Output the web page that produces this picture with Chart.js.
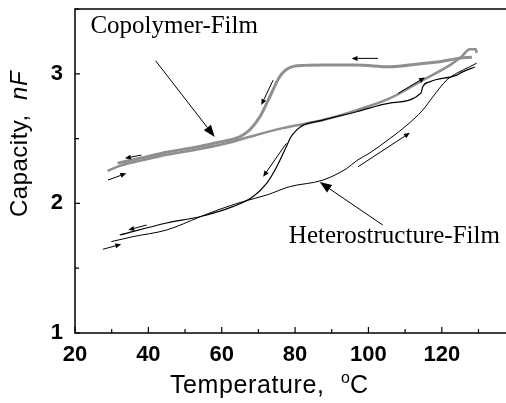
<!DOCTYPE html>
<html>
<head>
<meta charset="utf-8">
<script src="https://cdn.jsdelivr.net/npm/chart.js@4.4.1/dist/chart.umd.min.js"></script>
<style>
  body { margin: 0; background: #fff; }
  #wrap { width: 506px; height: 403px; }
</style>
</head>
<body>
<div id="wrap"><canvas id="capChart"></canvas></div>
<script>
// heterostructure film (black) - heating branch
const hetHeatT = [29.9, 35.7, 45.0, 54.0, 59.0, 65.7, 72.3, 78.5, 87.6, 94.1, 96.8, 100.4, 105.8, 110.5, 114.8, 117.5, 121.3, 124.1, 127.6, 129.5];
const hetHeatC = [1.705, 1.743, 1.795, 1.895, 1.95, 2.013, 2.065, 2.129, 2.18, 2.27, 2.33, 2.39, 2.50, 2.604, 2.72, 2.82, 2.951, 3.005, 3.054, 3.082];
// heterostructure film - cooling branch
const hetCoolT = [129.0, 125.5, 124.1, 116.7, 114.8, 114.3, 105.8, 96.8, 87.6, 82.0, 80.4, 78.8, 77.6, 75.0, 72.3, 68.5, 63.0, 54.0, 45.0, 32.2];
const hetCoolC = [3.052, 3.013, 2.99, 2.938, 2.90, 2.851, 2.774, 2.707, 2.643, 2.60, 2.565, 2.51, 2.437, 2.283, 2.157, 2.052, 1.975, 1.897, 1.849, 1.756];

// copolymer film (gray) - heating branch
const copHeatT = [28.9, 32.2, 38.0, 45.0, 54.0, 62.2, 67.6, 76.6, 87.6, 96.8, 105.8, 114.8, 122.2, 125.5, 127.6, 129.3, 129.5];
const copHeatC = [2.25, 2.29, 2.33, 2.375, 2.42, 2.47, 2.514, 2.581, 2.643, 2.72, 2.81, 2.951, 3.067, 3.136, 3.19, 3.19, 3.16];
// copolymer film - cooling branch
const copCoolT = [128.2, 124.9, 119.4, 114.8, 105.8, 96.8, 87.6, 82.5, 79.5, 77.7, 75.8, 73.1, 70.4, 67.6, 64.9, 62.2, 58.6, 54.0, 45.0, 38.0, 31.6];
const copCoolC = [3.128, 3.121, 3.093, 3.08, 3.054, 3.067, 3.067, 3.065, 3.057, 3.035, 2.977, 2.823, 2.668, 2.566, 2.514, 2.489, 2.468, 2.44, 2.395, 2.35, 2.311];

const xTickValues = [20, 40, 60, 80, 100, 120];
const yTickValues = [1, 2, 3];

// small direction arrows: [fromT, fromC, toT, toC]
const dirArrows = [
  [38.1, 2.373, 33.6, 2.348],
  [29.0, 2.18, 34.0, 2.232],
  [74.0, 2.951, 70.8, 2.759],
  [102.6, 3.119, 95.4, 3.119],
  [108.1, 2.849, 115.4, 2.972],
  [97.2, 2.283, 111.3, 2.545],
  [77.6, 2.463, 71.3, 2.206],
  [39.5, 1.833, 34.5, 1.795],
  [27.6, 1.646, 32.6, 1.685]
];
// labels with pointer arrows
const labels = [
  { text: "Copolymer-Film", t: 24.2, c: 3.311, from: [42.0, 3.10], to: [58.1, 2.512] },
  { text: "Heterostructure-Film", t: 78.3, c: 1.695, from: [103.9, 1.833], to: [86.7, 2.165] }
];

function pts(ts, cs) {
  return ts.map((t, i) => ({ x: t, y: cs[i] }));
}

function drawArrow(ctx, x1, y1, x2, y2, len, half, lw) {
  const a = Math.atan2(y2 - y1, x2 - x1);
  const bx = x2 - len * Math.cos(a), by = y2 - len * Math.sin(a);
  ctx.lineWidth = lw;
  ctx.beginPath();
  ctx.moveTo(x1, y1);
  ctx.lineTo(bx, by);
  ctx.stroke();
  ctx.beginPath();
  ctx.moveTo(x2, y2);
  ctx.lineTo(bx + half * Math.sin(a), by - half * Math.cos(a));
  ctx.lineTo(bx - half * Math.sin(a), by + half * Math.cos(a));
  ctx.closePath();
  ctx.fill();
}

const decorPlugin = {
  id: "decor",
  afterDraw(chart) {
    const ctx = chart.ctx;
    const xs = chart.scales.x, ys = chart.scales.y;
    const a = chart.chartArea;
    ctx.save();
    ctx.strokeStyle = "#000";
    ctx.fillStyle = "#000";

    // frame: left, bottom, top
    ctx.lineWidth = 1.5;
    ctx.beginPath();
    ctx.moveTo(chart.width, a.top);
    ctx.lineTo(a.left, a.top);
    ctx.lineTo(a.left, a.bottom);
    ctx.lineTo(chart.width, a.bottom);
    ctx.stroke();

    // inward ticks
    ctx.lineWidth = 1.2;
    ctx.beginPath();
    for (let v = 20; v <= 130; v += 10) {
      const px = xs.getPixelForValue(v);
      const len = v % 20 === 0 ? 6 : 4;
      ctx.moveTo(px, a.bottom);
      ctx.lineTo(px, a.bottom - len);
    }
    for (let v = 1; v <= 3.5; v += 0.5) {
      const py = ys.getPixelForValue(v);
      const len = Number.isInteger(v) ? 5 : 4;
      ctx.moveTo(a.left, py);
      ctx.lineTo(a.left + len, py);
    }
    ctx.stroke();

    // direction arrows
    dirArrows.forEach(d => {
      drawArrow(ctx, xs.getPixelForValue(d[0]), ys.getPixelForValue(d[1]),
        xs.getPixelForValue(d[2]), ys.getPixelForValue(d[3]), 6, 2.5, 1);
    });

    // labels and pointers
    ctx.font = '25px "Liberation Serif", "Times New Roman", serif';
    ctx.textAlign = "left";
    ctx.textBaseline = "alphabetic";
    labels.forEach(l => {
      ctx.fillText(l.text, xs.getPixelForValue(l.t), ys.getPixelForValue(l.c));
      drawArrow(ctx, xs.getPixelForValue(l.from[0]), ys.getPixelForValue(l.from[1]),
        xs.getPixelForValue(l.to[0]), ys.getPixelForValue(l.to[1]), 12, 4.5, 1);
    });

    // x title
    ctx.font = '25px "Liberation Sans", Arial, sans-serif';
    ctx.letterSpacing = "0.6px";
    ctx.fillText("Temperature,", 170, 393);
    ctx.letterSpacing = "0px";
    ctx.font = '16px "Liberation Sans", Arial, sans-serif';
    ctx.fillText("o", 341, 383);
    ctx.font = '25px "Liberation Sans", Arial, sans-serif';
    ctx.fillText("C", 350, 393);

    // y title (rotated)
    ctx.translate(27, 217);
    ctx.rotate(-Math.PI / 2);
    ctx.font = '24px "Liberation Sans", Arial, sans-serif';
    ctx.letterSpacing = "0.5px";
    const part = "Capacity,  ";
    ctx.fillText(part, 0, 0);
    const w = ctx.measureText(part).width;
    ctx.font = 'italic 24px "Liberation Sans", Arial, sans-serif';
    ctx.fillText("nF", w, 0);
    ctx.restore();
  }
};

const tickFont = { family: '"Liberation Sans", Arial, sans-serif', size: 22, weight: "bold" };

new Chart(document.getElementById("capChart"), {
  type: "line",
  data: {
    datasets: [
      { data: pts(hetHeatT, hetHeatC), borderColor: "#000", borderWidth: 1 },
      { data: pts(hetCoolT, hetCoolC), borderColor: "#000", borderWidth: 1.2 },
      { data: pts(copHeatT, copHeatC), borderColor: "#8f8f8f", borderWidth: 2.5 },
      { data: pts(copCoolT, copCoolC), borderColor: "#8f8f8f", borderWidth: 3 }
    ]
  },
  options: {
    responsive: true,
    maintainAspectRatio: false,
    animation: false,
    layout: { padding: { top: 9, right: 0, left: 0, bottom: 0 } },
    elements: {
      point: { radius: 0 },
      line: { cubicInterpolationMode: "monotone", fill: false }
    },
    plugins: { legend: { display: false }, tooltip: { enabled: false } },
    scales: {
      x: {
        type: "linear",
        min: 20,
        max: 137.5,
        grid: { display: false, drawTicks: false },
        border: { display: false },
        ticks: { font: tickFont, color: "#000", padding: 9, maxRotation: 0 },
        afterBuildTicks: s => { s.ticks = xTickValues.map(v => ({ value: v })); },
        afterFit: s => { s.height = 70; s.paddingLeft = 0; s.paddingRight = 0; }
      },
      y: {
        min: 1,
        max: 3.5,
        grid: { display: false, drawTicks: false },
        border: { display: false },
        ticks: { font: tickFont, color: "#000", padding: 12 },
        afterBuildTicks: s => { s.ticks = yTickValues.map(v => ({ value: v })); },
        afterFit: s => { s.width = 75; s.paddingTop = 0; s.paddingBottom = 0; }
      }
    }
  },
  plugins: [decorPlugin]
});
</script>
</body>
</html>
